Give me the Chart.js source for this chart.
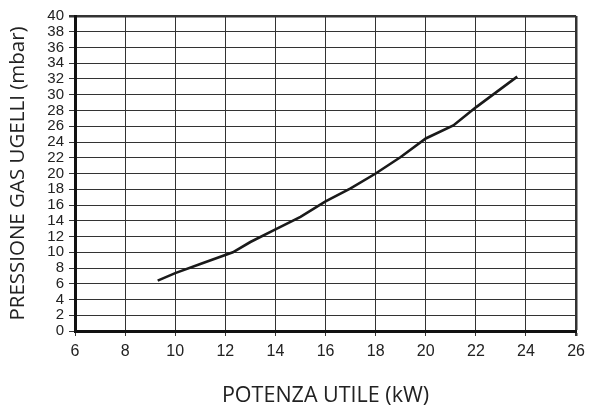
<!DOCTYPE html>
<html lang="it">
<head>
  <meta charset="UTF-8" />
  <title>Pressione gas ugelli</title>
  <script src="https://cdn.jsdelivr.net/npm/chart.js"></script>
  <style>
    html, body { margin: 0; padding: 0; background: #fff; }
    #wrap { width: 591px; height: 410px; }
  </style>
</head>
<body>
  <div id="wrap"><canvas id="grafico"></canvas></div>

  <script>
    // dati
    const potenza = [9.3, 10, 11, 12.3, 13, 14, 15, 16, 17, 18, 19, 20, 21.1, 22, 23.65];
    const pressione = [6.4, 7.35, 8.5, 10.0, 11.3, 12.9, 14.5, 16.45, 18.1, 20.0, 22.1, 24.45, 26.1, 28.4, 32.3];
    const xTicks = [6, 8, 10, 12, 14, 16, 18, 20, 22, 24, 26];
    const yTicks = [0, 2, 4, 6, 8, 10, 12, 14, 16, 18, 20, 22, 24, 26, 28, 30, 32, 34, 36, 38, 40];

    const punti = potenza.map((x, i) => ({ x: x, y: pressione[i] }));

    new Chart(document.getElementById('grafico'), {
      type: 'line',
      data: {
        datasets: [{
          data: punti,
          borderColor: '#1a1a1a',
          borderWidth: 2.6,
          pointRadius: 0,
          tension: 0,
          fill: false
        }]
      },
      options: {
        responsive: true,
        maintainAspectRatio: false,
        animation: false,
        layout: { padding: { top: 16, right: 14, left: 0, bottom: 0 } },
        plugins: { legend: { display: false }, tooltip: { enabled: false } },
        scales: {
          x: {
            type: 'linear',
            min: xTicks[0],
            max: xTicks[xTicks.length - 1],
            afterBuildTicks: s => { s.ticks = xTicks.map(v => ({ value: v })); },
            afterFit: s => { s.height = 79; },
            grid: {
              color: '#333',
              lineWidth: c => (c.tick && c.tick.value === 26) ? 2.5 : 1,
              tickLength: 5,
              tickColor: '#333'
            },
            border: { color: '#111', width: 3 },
            ticks: {
              autoSkip: false,
              maxRotation: 0,
              padding: 6,
              color: '#222',
              font: { family: 'Liberation Sans, Arial, sans-serif', size: 16 }
            },
            title: {
              display: true,
              text: 'POTENZA UTILE (kW)',
              color: '#222',
              padding: { top: 0, bottom: 1 },
              font: { family: 'Open Sans, sans-serif', size: 21.5 }
            }
          },
          y: {
            type: 'linear',
            min: 0,
            max: 40,
            afterBuildTicks: s => { s.ticks = yTicks.map(v => ({ value: v })); },
            afterFit: s => { s.width = 75; },
            grid: {
              color: '#333',
              lineWidth: c => (c.tick && c.tick.value === 40) ? 2.5 : 1,
              tickLength: 6,
              tickColor: '#333'
            },
            border: { color: '#111', width: 3 },
            ticks: {
              autoSkip: false,
              padding: 5,
              color: '#222',
              font: { family: 'Liberation Sans, Arial, sans-serif', size: 15 }
            },
            title: {
              display: true,
              text: 'PRESSIONE GAS UGELLI (mbar)',
              color: '#222',
              padding: { top: 6, bottom: 0 },
              font: { family: 'Open Sans, sans-serif', size: 20.5 }
            }
          }
        }
      }
    });
  </script>
</body>
</html>
